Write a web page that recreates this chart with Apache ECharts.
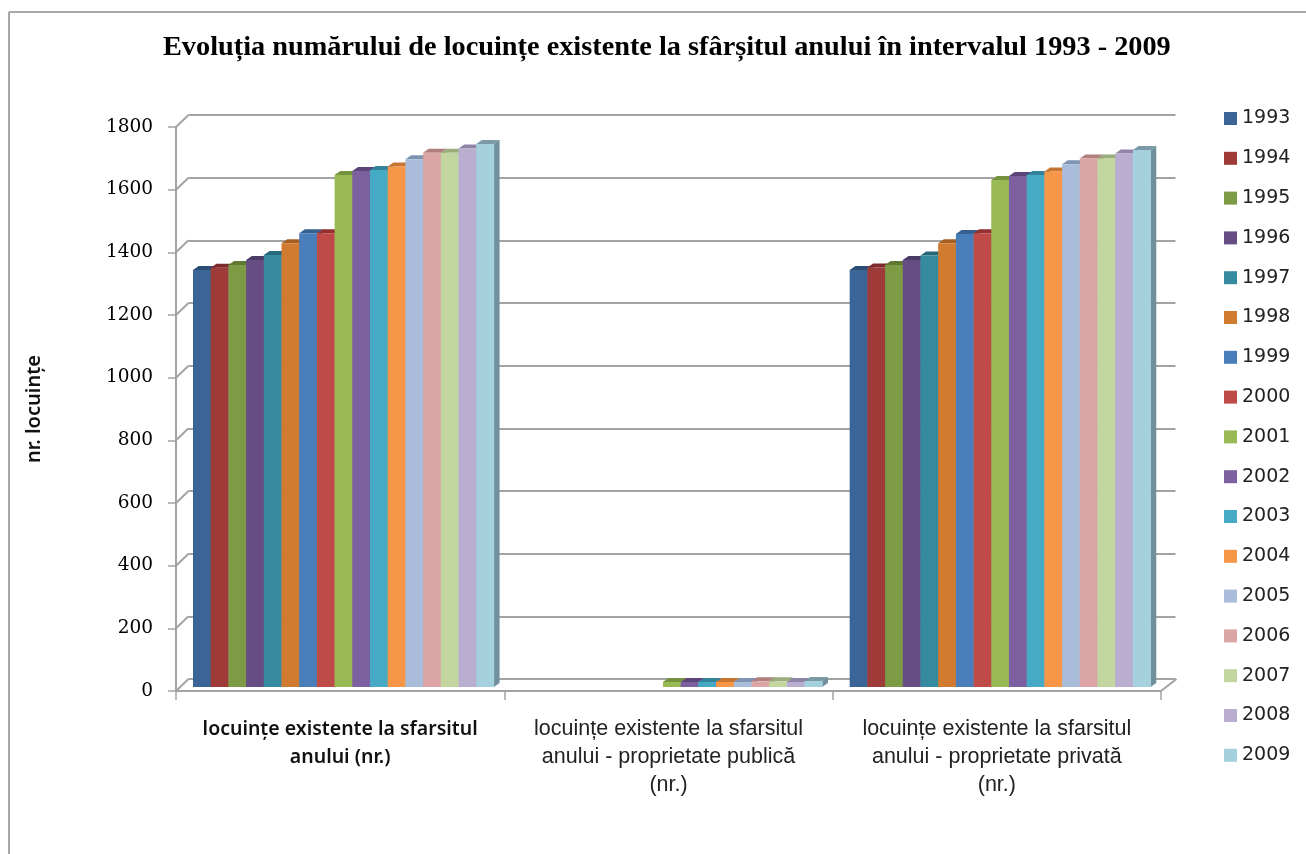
<!DOCTYPE html>
<html><head><meta charset="utf-8">
<style>html,body{margin:0;padding:0;background:#fff}#c{width:1306px;height:854px}</style>
<script src="https://cdn.jsdelivr.net/npm/echarts@6/dist/echarts.min.js"></script>
</head><body><div id="c"></div>
<script>
const years = ['1993','1994','1995','1996','1997','1998','1999','2000','2001','2002','2003','2004','2005','2006','2007','2008','2009'];
const colors = ['#3b6497','#9e3b39','#7d9a45','#664e85','#358a9f','#d17b31','#4a7ebb','#be4b48','#98b954','#7d60a0','#46aac5','#f79646','#a9bcd9','#daa5a4','#c4d6a0','#b9aed0','#a5d0dd'];
const capColors = ['#2c4d76','#7c2b2a','#5f7832','#4c3a66','#26697a','#a65f22','#35608f','#952f2d','#75923c','#5c4679','#31839a','#c87530','#7f94b3','#b07f7e','#9aad7c','#8f84a8','#7a9aa5'];
const totalValues = [1331,1338,1347,1363,1379,1416,1448,1448,1634,1647,1650,1661,1684,1705,1705,1719,1733];
const publicValues = [null,null,null,null,null,null,null,null,16,16,16,16,16,18,18,16,19];
const privateValues = [1331,1339,1347,1363,1377,1416,1446,1448,1618,1631,1634,1645,1668,1687,1687,1703,1714];
const categories = ['locuințe existente la sfarsitul\nanului (nr.)','locuințe existente la sfarsitul\nanului - proprietate publică\n(nr.)','locuințe existente la sfarsitul\nanului - proprietate privată\n(nr.)'];
const yTicks = [0,200,400,600,800,1000,1200,1400,1600,1800];
const titleText = 'Evoluția numărului de locuințe existente la sfârșitul anului în intervalul 1993 - 2009';
const yTitle = 'nr. locuințe';

const GREY = '#a3a3a3';
const DX = 12.5, DY = 12;      // wall depth
const BDX = 5.7, BDY = 4;      // bar depth
const START = 17, SLOT = 17.7, LIFT = 4;

const chart = echarts.init(document.getElementById('c'), null, {renderer:'canvas'});

const barSeries = years.map((y,i)=>({
  name: y, type:'custom', xAxisIndex:0, yAxisIndex:0, clip:false, silent:true, z:5,
  itemStyle:{color:colors[i]},
  encode:{x:0,y:1},
  data:[[0,totalValues[i]],[1,publicValues[i]],[2,privateValues[i]]].filter(d=>d[1]!=null),
  renderItem(params,api){
    const cat = api.value(0), v = api.value(1);
    const band = api.size([1,0])[0];
    const x0 = api.coord([cat,0])[0]-band/2+START+i*SLOT, x1 = x0+SLOT;
    const yb = api.coord([cat,0])[1]-LIFT, yt = api.coord([cat,v])[1]-LIFT;
    return {type:'group',children:[
      {type:'polygon',shape:{points:[[x1,yt],[x1+BDX,yt-BDY],[x1+BDX,yb-BDY],[x1,yb]]},style:{fill:i===16?'#6f909c':capColors[i]}},
      {type:'polygon',shape:{points:[[x0,yt],[x1,yt],[x1+BDX,yt-BDY],[x0+BDX,yt-BDY]]},style:{fill:capColors[i]}},
      {type:'rect',shape:{x:x0,y:yt,width:SLOT+0.3,height:yb-yt},style:{fill:colors[i]}}
    ]};
  }
}));

const wallSeries = {
  type:'custom', xAxisIndex:0, yAxisIndex:0, clip:false, silent:true, z:2,
  data: yTicks.map(t=>[0,t]), encode:{y:1},
  renderItem(params,api){
    const p = api.coord([0,api.value(1)]);
    const x = params.coordSys.x;
    return {type:'line',shape:{x1:x,y1:p[1],x2:x+DX,y2:p[1]-DY},style:{stroke:GREY,lineWidth:2}};
  }
};
const floorSeries = {
  type:'custom', xAxisIndex:0, yAxisIndex:0, clip:false, silent:true, z:2,
  data:[[2,0]], encode:{x:0,y:1},
  renderItem(params,api){
    const p = api.coord([2,0]);
    const x = params.coordSys.x+params.coordSys.width;
    return {type:'line',shape:{x1:x,y1:p[1],x2:x+DX+3,y2:p[1]-DY},style:{stroke:GREY,lineWidth:2}};
  }
};

chart.setOption({
  backgroundColor:'#fff',
  animation:false,
  title:{text:titleText,left:163,top:34,padding:0,
    textStyle:{fontFamily:'"Liberation Serif"',fontWeight:'bold',fontSize:28.3,color:'#000'}},
  legend:{show:true,orient:'vertical',left:1224,top:109,padding:0,itemWidth:13,itemHeight:13,itemGap:20.8,icon:'rect',
    data:years,selectedMode:false,
    textStyle:{fontFamily:'"DejaVu Sans"',fontSize:19,lineHeight:18,color:'#222'}},
  grid:[
    {left:176,top:127,width:985,height:564,containLabel:false},
    {left:188.5,top:115,width:987,height:564,containLabel:false}
  ],
  xAxis:[
    {type:'category',gridIndex:0,data:[
        {value:categories[0],textStyle:{fontFamily:'"Noto Sans"',fontWeight:600,fontSize:19.5,color:'#111'}},
        categories[1],categories[2]],
      axisLine:{lineStyle:{color:GREY,width:2}},
      axisTick:{show:true,length:9,alignWithLabel:false,lineStyle:{color:GREY,width:1.5}},
      axisLabel:{interval:0,margin:24,lineHeight:28,fontFamily:'"Liberation Sans"',fontSize:21.5,color:'#222'}},
    {type:'category',gridIndex:1,data:categories,show:false}
  ],
  yAxis:[
    {type:'value',gridIndex:0,min:0,max:1800,interval:200,
      axisLine:{show:true,lineStyle:{color:GREY,width:2}},
      axisTick:{show:true,length:8,lineStyle:{color:GREY,width:1.5}},
      splitLine:{show:false},
      axisLabel:{margin:23,formatter:v=>String(v),fontFamily:'"DejaVu Serif"',fontSize:18.5,color:'#000'},
      name:yTitle,nameLocation:'middle',nameRotate:90,nameGap:132,
      nameTextStyle:{fontFamily:'"Noto Sans"',fontWeight:600,fontSize:20,color:'#111'}},
    {type:'value',gridIndex:1,min:0,max:1800,interval:200,
      axisLine:{show:false},axisTick:{show:false},axisLabel:{show:false},
      splitLine:{show:true,lineStyle:{color:GREY,width:2}}}
  ],
  graphic:[
    {type:'line',silent:true,shape:{x1:9,y1:12,x2:1306,y2:12},style:{stroke:'#a8a8a8',lineWidth:2}},
    {type:'line',silent:true,shape:{x1:9,y1:12,x2:9,y2:854},style:{stroke:'#a8a8a8',lineWidth:2}}
  ],
  series:[wallSeries,floorSeries,...barSeries]
});
</script></body></html>
